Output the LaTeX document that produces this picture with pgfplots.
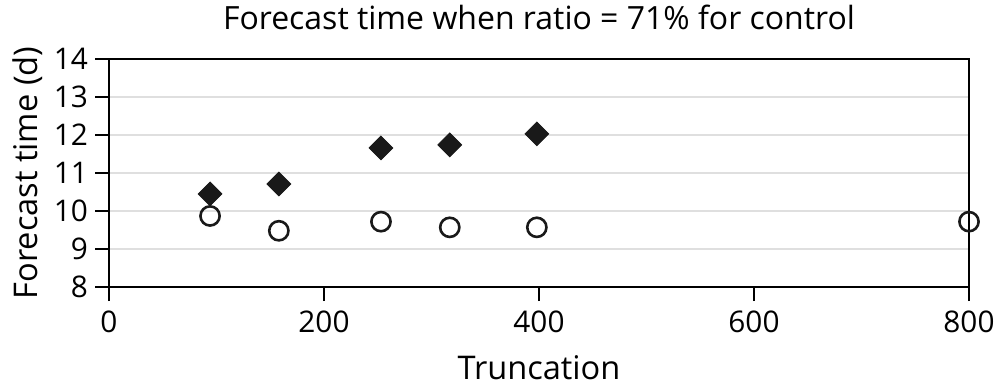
\documentclass[border=0pt]{standalone}
\usepackage{pgfplots}
\pgfplotsset{compat=1.18}
\usepackage{fontspec}
\setmainfont{Open Sans}
\begin{document}
\begin{tikzpicture}
\useasboundingbox (0pt,0pt) rectangle (499.5pt,192.5pt);
\begin{axis}[
  at={(54.5pt,49pt)}, anchor=south west,
  width=430pt, height=114pt, scale only axis,
  xmin=0, xmax=800, ymin=8, ymax=14,
  xtick={0,200,400,600,800}, ytick={8,9,...,14},
  tick align=outside, tick pos=left,
  major tick length=7pt,
  ymajorgrids, grid style={gray!25, line width=1pt},
  axis line style={line width=0.9pt},
  tick style={line width=0.9pt, black},
  /pgf/number format/assume math mode=true,
  ticklabel style={font=\fontsize{14.9}{17}\selectfont},
  xticklabel style={yshift=-1.5pt},
  title={Forecast time when ratio = 71\% for control},
  title style={font=\fontsize{16}{19}\selectfont, at={(axis description cs:0.5,1.128)}, anchor=center},
  xlabel={Truncation}, ylabel={Forecast time (d)},
  xlabel style={font=\fontsize{16.3}{19}\selectfont, at={(axis description cs:0.5,-0.352)}, anchor=center},
  ylabel style={font=\fontsize{16.3}{19}\selectfont, at={(axis description cs:-0.094,0.5)}, anchor=center},
  clip=false,
]
\addplot[only marks, mark=square*, mark size=4.2pt, mark options={rotate=45, fill=black!90, draw=black!90}]
 coordinates {(94,10.45) (158,10.71) (253,11.66) (317,11.74) (398,12.03)};
\addplot[only marks, mark=o, mark size=4.8pt, mark options={line width=1.3pt, fill=white, draw=black!90}]
 coordinates {(94,9.87) (158,9.48) (253,9.72) (317,9.57) (398,9.57) (800,9.72)};
\end{axis}
\end{tikzpicture}
\end{document}
